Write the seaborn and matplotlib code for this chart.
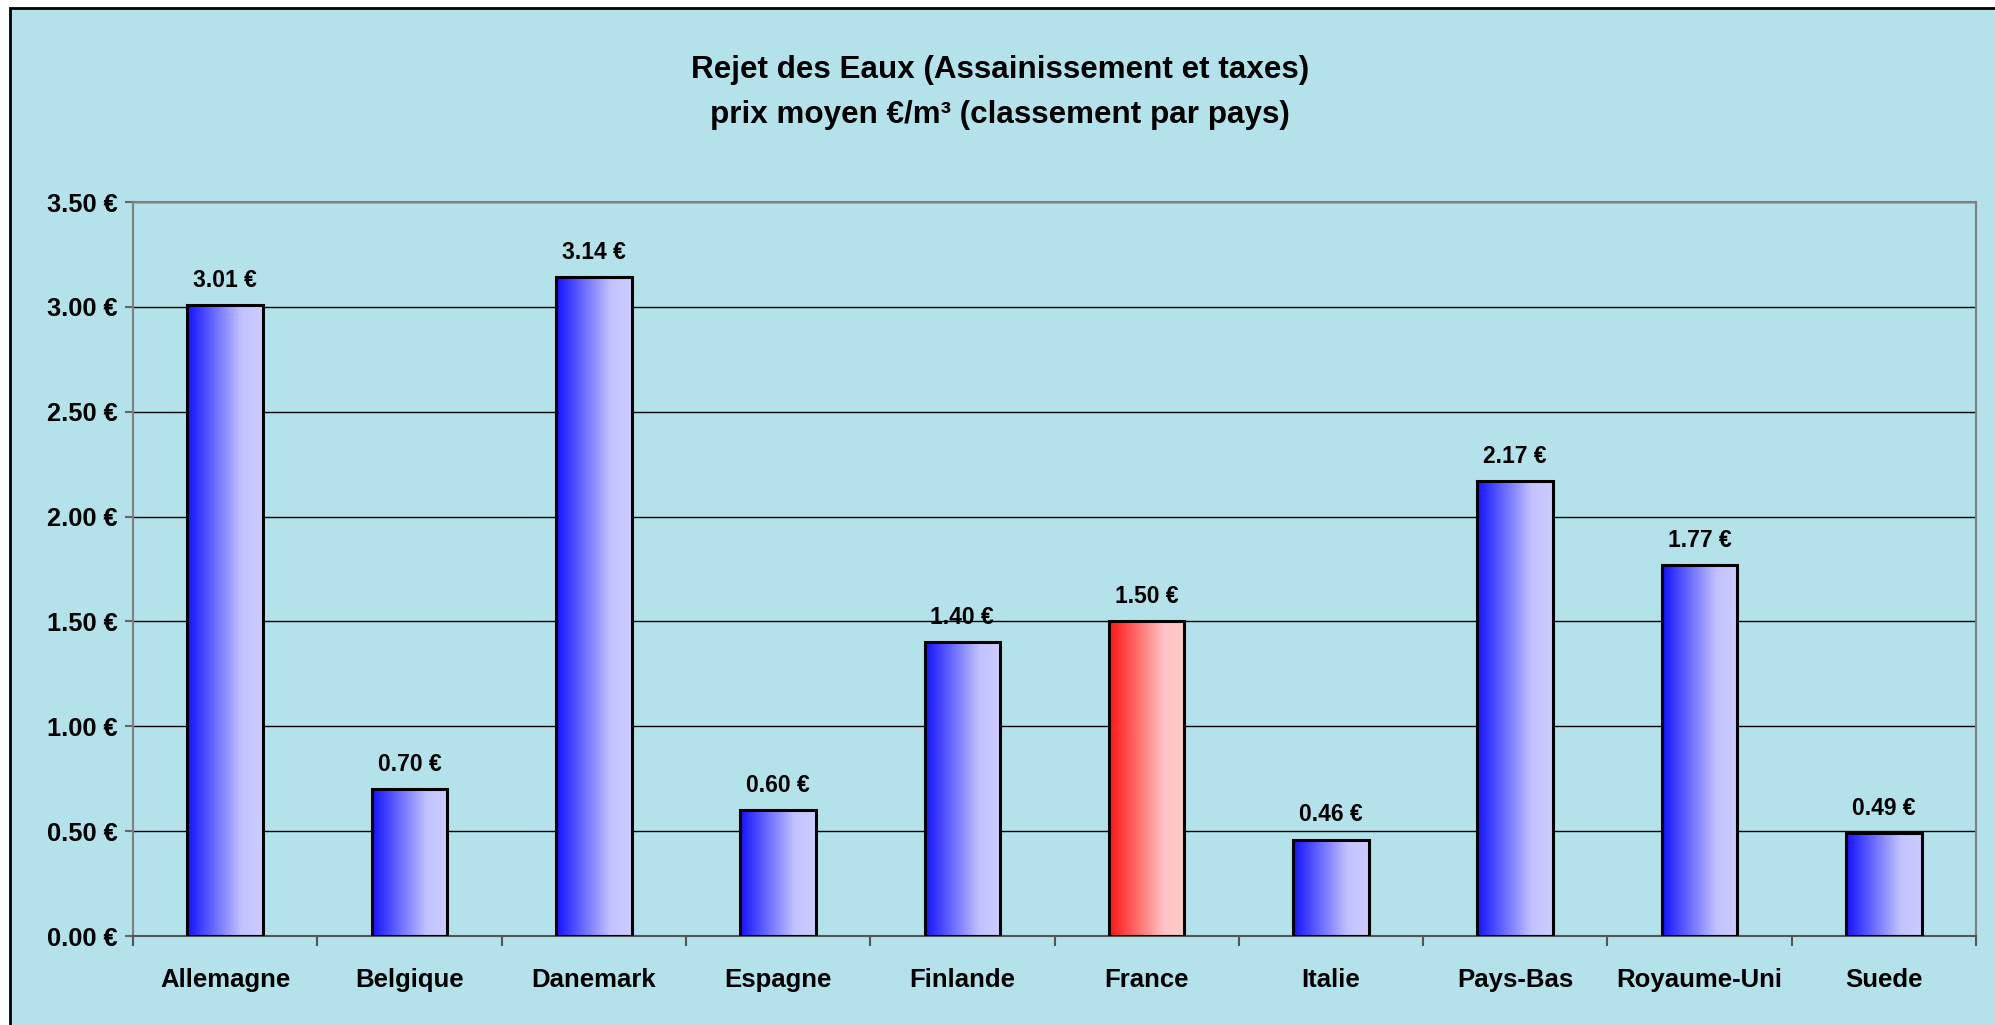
import numpy as np
import pandas as pd
import matplotlib
matplotlib.use("Agg")
import matplotlib.pyplot as plt
from matplotlib.patches import Rectangle
from matplotlib.colors import LinearSegmentedColormap
import seaborn as sns

countries = ["Allemagne", "Belgique", "Danemark", "Espagne", "Finlande",
             "France", "Italie", "Pays-Bas", "Royaume-Uni", "Suede"]
prices = [3.01, 0.70, 3.14, 0.60, 1.40, 1.50, 0.46, 2.17, 1.77, 0.49]
highlight = "France"
yticks = [0.0, 0.5, 1.0, 1.5, 2.0, 2.5, 3.0, 3.5]
title1 = "Rejet des Eaux (Assainissement et taxes)"
title2 = "prix moyen €/m³ (classement par pays)"

sns.set_theme(style="white")
plt.rcParams['font.family'] = ['Liberation Sans', 'DejaVu Sans']
plt.rcParams['text.color'] = 'black'
plt.rcParams['xtick.color'] = 'black'
plt.rcParams['ytick.color'] = 'black'

BG = "#b3e2ea"
W, H = 1995, 1025
fig = plt.figure(figsize=(W / 100, H / 100), dpi=100, facecolor="white")

# outer frame (cropped at right/bottom)
fig.patches.append(Rectangle((10 / W, -0.01), 1.02, 1 - 8 / H + 0.01,
                             transform=fig.transFigure, facecolor=BG,
                             edgecolor="black", linewidth=2, zorder=-5))

ax = fig.add_axes([133 / W, 1 - 936 / H, (1976 - 133) / W, (936 - 202) / H])
ax.set_zorder(2)
ax.set_facecolor("none")

df = pd.DataFrame({"pays": countries, "prix": prices})
sns.barplot(data=df, x="pays", y="prix", width=0.41, ax=ax, color="blue",
            edgecolor="black", linewidth=2.2, zorder=3)

blue_cmap = LinearSegmentedColormap.from_list(
    "b", [(0.0, "#1212ff"), (0.72, "#c2c2ff"), (1.0, "#ccccff")])
red_cmap = LinearSegmentedColormap.from_list(
    "r", [(0.0, "#ff1212"), (0.72, "#ffc2c2"), (1.0, "#ffcccc")])
grad = np.linspace(0, 1, 256).reshape(1, -1)
for patch, name in zip(ax.patches, countries):
    x0, y0 = patch.get_x(), patch.get_y()
    w, h = patch.get_width(), patch.get_height()
    patch.set_facecolor("none")
    cmap = red_cmap if name == highlight else blue_cmap
    im = ax.imshow(grad, cmap=cmap, extent=[x0, x0 + w, y0, y0 + h],
                   aspect="auto", zorder=2, interpolation="bilinear")
    im.set_clip_path(patch)
ax.set_xlim(-0.5, len(countries) - 0.5)
ax.set_ylim(0, 3.5)

for i, v in enumerate(prices):
    ax.annotate(f"{v:.2f} €", (i, v), xytext=(0, 13), textcoords="offset points",
                ha="center", va="baseline", fontsize=16.5, fontweight="bold",
                color="black", zorder=5)

# grid
ax.set_yticks(yticks)
for y in yticks[1:]:
    ax.axhline(y, color="black", linewidth=1.0, zorder=1)
ax.set_yticklabels([f"{v:.2f} €" for v in yticks], fontsize=18.3, fontweight="bold")
ax.tick_params(axis="y", left=True, length=6, width=1.5, color="#666666",
               labelcolor="black", pad=5)

ax.set_xticks(range(len(countries)))
ax.set_xticklabels(countries, fontsize=18.5, fontweight="bold")
ax.set_xticks(np.arange(-0.5, len(countries), 1.0), minor=True)
ax.tick_params(axis="x", which="major", length=0, pad=23, labelcolor="black")
ax.tick_params(axis="x", which="minor", bottom=True, length=7, width=1.5,
               color="#555555", direction="out")
ax.set_xlabel("")
ax.set_ylabel("")

for s in ["left", "right", "top"]:
    ax.spines[s].set_color("#808080")
    ax.spines[s].set_linewidth(1.5)
ax.spines["bottom"].set_color("#555555")
ax.spines["bottom"].set_linewidth(1.5)
for s in ax.spines.values():
    s.set_visible(True)

fig.text(1000 / W, 1 - 70 / H, title1, ha="center", va="center", fontsize=22.6,
         fontweight="bold", color="black")
fig.text(1000 / W, 1 - 115 / H, title2, ha="center", va="center", fontsize=22.6,
         fontweight="bold", color="black")

fig.savefig("out.png", dpi=100, facecolor="white")
